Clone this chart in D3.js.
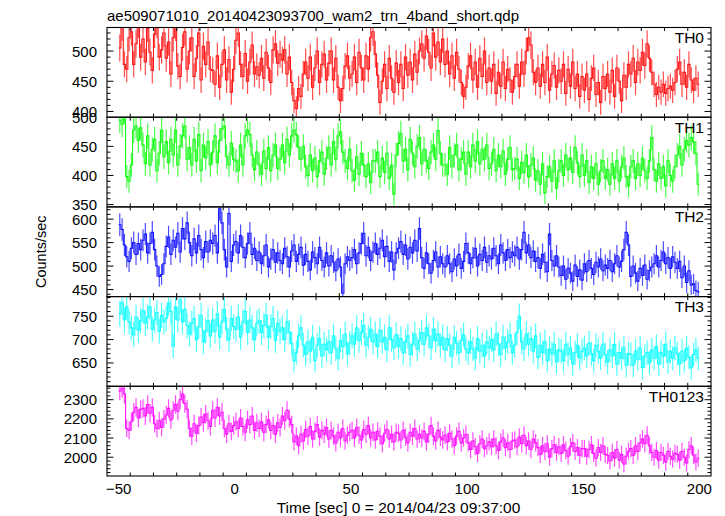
<!DOCTYPE html>
<html>
<head>
<meta charset="utf-8">
<script src="https://cdn.jsdelivr.net/npm/d3@7"></script>
<style>
  html, body { margin: 0; padding: 0; background: #fff; }
  svg { display: block; }
  text { font-family: "Liberation Sans", Arial, Helvetica, sans-serif; fill: #000; }
</style>
</head>
<body>
<svg id="chart" width="725" height="516"></svg>
<script>
// ---------- data (1-s bins, t = -49.5 ... 199.5) ----------
const title = "ae509071010_20140423093700_wam2_trn_4band_short.qdp";
const xLabel = "Time [sec] 0 = 2014/04/23 09:37:00";
const yLabel = "Counts/sec";
const tStart = -50;      // first bin left edge
const binSize = 1;       // seconds

const panelNames = ["TH0", "TH1", "TH2", "TH3", "TH0123"];
const panelColors = ["#ff0000", "#00ff00", "#0000ff", "#00ffff", "#ff00ff"];
const yDomains = [[390.5, 539], [346, 500], [435, 626], [600, 792], [1902, 2370]];
const yTicks = [[400, 450, 500], [350, 400, 450, 500], [450, 500, 550, 600], [650, 700, 750], [2000, 2100, 2200, 2300]];
const yMinorStep = [10, 10, 10, 10, 20];
const xTicks = [-50, 0, 50, 100, 150, 200];
const xDomain = [-55, 205];

const th0 = [
505,540,478,470,522,532,478,512,545,490,
520,482,538,498,468,528,545,490,502,530,
488,515,462,522,540,475,458,506,532,470,
500,522,458,488,530,452,508,478,515,470,
468,445,492,440,478,502,452,486,432,470,
518,530,478,458,496,450,482,510,462,474,
460,488,455,498,472,448,502,512,480,495,
485,502,462,490,448,418,405,438,425,462,
482,455,490,440,472,500,448,478,495,452,
480,500,452,488,440,418,438,475,492,455,
462,490,448,498,472,452,492,470,522,532,
495,460,415,450,478,438,488,455,432,480,
448,478,438,490,460,482,452,495,465,500,
512,488,525,498,472,530,490,515,482,520,
478,500,462,492,455,498,470,448,425,440,
475,492,452,482,440,488,458,500,448,472,
450,478,430,465,442,482,438,470,452,432,
458,478,442,482,462,500,522,510,465,448,
472,442,478,448,490,435,462,476,440,468,
450,478,430,470,442,482,438,462,425,458,
435,462,420,455,472,428,448,415,458,438,
462,432,468,425,472,450,418,460,440,478,
462,488,448,482,468,498,476,512,488,465,
445,428,440,432,445,430,438,442,435,448,
470,482,445,465,440,478,452,435,455,445];

const th1 = [
495,488,510,398,390,418,478,485,460,482,
452,420,468,418,445,462,408,438,478,432,
458,422,462,435,478,418,450,468,485,428,
448,418,462,425,470,408,452,430,458,418,
440,468,422,460,480,485,432,418,455,428,
425,408,452,418,468,478,470,435,410,440,
418,402,442,412,448,408,435,452,412,428,
452,422,462,435,468,478,470,448,428,450,
415,400,435,408,430,398,425,440,402,430,
448,418,458,428,468,475,440,425,412,445,
408,392,432,402,438,418,398,420,388,425,
425,440,398,430,405,438,395,418,368,435,
455,472,425,445,410,462,438,415,450,465,
420,445,425,412,440,452,428,477,438,418,
418,402,448,415,435,452,410,428,440,402,
440,415,452,425,458,420,445,428,452,412,
420,445,408,435,415,442,402,428,448,410,
412,428,395,422,405,435,398,418,430,392,
408,385,420,370,398,415,390,425,378,408,
425,400,435,410,430,405,448,422,398,435,
400,425,388,415,395,420,385,408,425,395,
410,385,420,395,425,390,415,430,398,382,
415,425,395,420,400,430,408,395,425,465,
410,390,420,395,415,382,425,400,390,415,
435,450,418,445,460,452,465,458,438,385];

const th2 = [
588,578,545,520,510,538,550,525,548,535,
555,568,528,548,572,535,500,478,482,505,
542,562,525,555,540,570,530,580,558,592,
550,522,558,528,565,535,518,552,530,555,
548,565,528,622,592,535,498,612,510,545,
552,528,565,540,518,548,570,525,538,512,
530,505,522,545,498,515,535,508,528,512,
505,538,520,498,532,545,510,525,540,502,
525,510,492,530,518,505,540,512,498,528,
500,522,508,490,515,498,442,505,520,512,
518,535,505,528,548,570,522,540,512,530,
548,525,538,555,520,542,510,530,492,528,
538,552,525,545,515,540,528,555,532,580,
518,495,528,505,485,512,530,498,520,505,
498,522,505,488,515,500,525,495,510,548,
528,505,518,538,500,525,512,540,508,522,
515,538,522,505,545,528,512,535,518,530,
522,540,515,535,572,528,545,518,532,510,
518,495,525,508,488,568,512,500,522,498,
480,500,472,495,485,468,502,478,492,470,
505,488,512,495,482,508,498,515,490,502,
495,512,488,505,522,498,510,535,572,545,
478,500,485,468,495,480,502,472,490,498,
505,522,498,512,530,505,518,495,520,508,
495,510,475,500,465,490,460,462,448,445];

const th3 = [
755,780,742,770,738,725,710,748,720,740,
762,735,748,770,722,742,758,718,752,738,
745,778,760,686,770,742,785,738,765,730,
712,735,745,700,728,752,695,718,740,708,
742,718,755,705,738,765,722,700,745,728,
722,748,705,738,760,715,742,725,700,735,
740,715,730,752,705,728,745,698,735,718,
725,700,738,715,692,655,672,708,725,688,
668,695,675,705,655,688,702,665,690,678,
695,672,708,680,660,698,685,712,670,692,
708,690,725,698,715,730,688,705,722,695,
712,685,720,695,705,678,725,700,682,710,
685,702,672,695,708,668,690,712,680,698,
715,690,725,708,682,722,698,712,688,705,
678,702,688,665,705,692,672,698,710,680,
672,695,680,660,702,675,688,665,695,682,
700,678,712,690,668,705,682,695,710,672,
688,715,750,695,680,712,690,702,675,708,
662,688,672,695,655,680,670,690,652,678,
675,655,690,668,682,648,672,688,660,675,
682,665,692,670,655,688,675,660,690,668,
652,678,665,690,648,672,660,682,645,670,
668,645,675,658,682,640,665,672,650,678,
660,685,648,672,665,690,652,675,660,682,
670,648,675,655,682,662,640,668,678,660];

const th0123 = [
2345,2360,2330,2150,2140,2185,2235,2260,2205,2250,
2255,2215,2275,2230,2260,2175,2150,2190,2155,2200,
2220,2255,2195,2245,2275,2240,2300,2330,2280,2250,
2150,2110,2175,2125,2165,2210,2180,2225,2190,2160,
2245,2205,2260,2215,2235,2150,2120,2175,2135,2165,
2185,2150,2205,2160,2130,2195,2170,2215,2140,2180,
2150,2185,2130,2170,2195,2140,2165,2120,2180,2155,
2215,2190,2245,2200,2170,2080,2110,2060,2120,2085,
2145,2110,2160,2095,2135,2170,2105,2140,2120,2155,
2095,2140,2110,2075,2130,2100,2150,2085,2115,2130,
2140,2100,2155,2115,2090,2145,2120,2165,2100,2130,
2090,2135,2110,2070,2125,2145,2095,2120,2080,2130,
2125,2090,2140,2105,2075,2130,2110,2150,2095,2120,
2100,2135,2080,2120,2165,2110,2085,2140,2105,2090,
2115,2080,2125,2095,2060,2110,2135,2075,2100,2120,
2075,2040,2085,2055,2020,2070,2095,2045,2060,2080,
2055,2095,2060,2035,2080,2100,2050,2075,2040,2085,
2090,2055,2105,2070,2115,2060,2085,2040,2095,2075,
2050,2015,2060,2030,2070,2000,2045,2065,2025,2055,
2020,2065,2035,2005,2055,2075,2030,2050,2010,2045,
2045,2005,2040,2065,2020,1995,2050,2025,2060,2015,
2010,1980,2025,1995,2040,1985,2015,1965,2005,2030,
2045,2010,2060,2030,2075,2095,2070,2115,2060,2025,
2000,2035,1985,2025,2010,1975,2030,2005,1990,2020,
2015,1985,2030,2000,1970,2040,2060,2010,1975,1995];

const series = [th0, th1, th2, th3, th0123];

// ---------- layout ----------
const plotLeft = 107, plotRight = 711;
const plotTop = 27.5, plotBottom = 476;
const nPanels = series.length;
const panelH = (plotBottom - plotTop) / nPanels;

const svg = d3.select("#chart");
const x = d3.scaleLinear().domain(xDomain).range([plotLeft, plotRight]);

// title
svg.append("text")
  .attr("x", plotLeft).attr("y", 20.5)
  .style("font-size", "15px")
  .text(title);

// y label
svg.append("text")
  .attr("transform", `translate(46,${(plotTop + plotBottom) / 2}) rotate(-90)`)
  .attr("text-anchor", "middle")
  .style("font-size", "14.5px")
  .text(yLabel);

// x label
svg.append("text")
  .attr("x", 398.5).attr("y", 512.5)
  .attr("text-anchor", "middle")
  .style("font-size", "15.5px")
  .text(xLabel);

const xMinor = d3.range(xDomain[0], xDomain[1] + 0.001, 10).filter(v => v > xDomain[0] && v < xDomain[1]);

series.forEach((vals, p) => {
  const top = plotTop + p * panelH;
  const bot = top + panelH;
  const y = d3.scaleLinear().domain(yDomains[p]).range([bot, top]);
  const g = svg.append("g");
  const color = panelColors[p];

  const clipId = "clip" + p;
  svg.append("clipPath").attr("id", clipId)
    .append("rect").attr("x", plotLeft).attr("y", top).attr("width", plotRight - plotLeft).attr("height", panelH);

  const data = vals.map((v, i) => ({ t: tStart + (i + 0.5) * binSize, v: v, e: Math.sqrt(v * binSize) / binSize }));

  const dg = g.append("g").attr("clip-path", `url(#${clipId})`);
  // error bars
  dg.selectAll("line.err").data(data).enter().append("line")
    .attr("x1", d => x(d.t)).attr("x2", d => x(d.t))
    .attr("y1", d => y(d.v - d.e)).attr("y2", d => y(d.v + d.e))
    .attr("stroke", color).attr("stroke-width", 1.2).attr("stroke-opacity", 0.7);
  // step line
  const pts = [];
  data.forEach(d => { pts.push([d.t - binSize / 2, d.v]); pts.push([d.t + binSize / 2, d.v]); });
  const line = d3.line().x(d => x(d[0])).y(d => y(d[1]));
  dg.append("path").attr("d", line(pts)).attr("fill", "none")
    .attr("stroke", color).attr("stroke-width", 1.1).attr("stroke-opacity", 0.9);

  // frame
  g.append("rect").attr("x", plotLeft).attr("y", top).attr("width", plotRight - plotLeft).attr("height", panelH)
    .attr("fill", "none").attr("stroke", "#000").attr("stroke-width", 1.1);

  // x ticks top & bottom
  const tk = g.append("g").attr("stroke", "#000").attr("stroke-width", 1);
  xMinor.forEach(v => {
    const major = xTicks.includes(v);
    const len = major ? 6.5 : 3.5;
    tk.append("line").attr("x1", x(v)).attr("x2", x(v)).attr("y1", bot).attr("y2", bot - len);
    tk.append("line").attr("x1", x(v)).attr("x2", x(v)).attr("y1", top).attr("y2", top + len);
  });
  // y ticks left & right
  const d0 = yDomains[p][0], d1 = yDomains[p][1], ms = yMinorStep[p];
  const yMinor = d3.range(Math.ceil(d0 / ms) * ms, d1, ms);
  yMinor.forEach(v => {
    const major = yTicks[p].includes(v);
    const len = major ? 6.5 : 3.5;
    tk.append("line").attr("x1", plotLeft).attr("x2", plotLeft + len).attr("y1", y(v)).attr("y2", y(v));
    tk.append("line").attr("x1", plotRight).attr("x2", plotRight - len).attr("y1", y(v)).attr("y2", y(v));
  });
  // y tick labels
  yTicks[p].forEach(v => {
    g.append("text").attr("x", plotLeft - 10).attr("y", y(v) + 5.5)
      .attr("text-anchor", "end").style("font-size", "15px").text(v);
  });
  // panel name
  g.append("text").attr("x", plotRight - 7).attr("y", top + 15.5)
    .attr("text-anchor", "end").style("font-size", "15.5px").text(panelNames[p]);

  // bottom x tick labels on last panel
  if (p === nPanels - 1) {
    xTicks.forEach(v => {
      g.append("text").attr("x", x(v)).attr("y", bot + 17.5)
        .attr("text-anchor", "middle").style("font-size", "15px")
        .text(v < 0 ? "\u2212" + Math.abs(v) : v);
    });
  }
});
</script>
</body>
</html>
